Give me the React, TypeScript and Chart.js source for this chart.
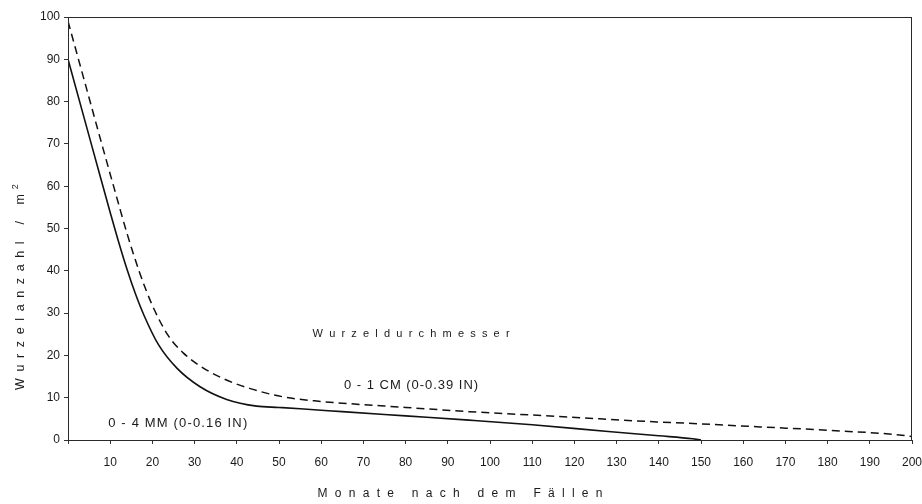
import React, { useEffect, useRef } from "react";
import { Chart, registerables } from "chart.js";

Chart.register(...registerables);

// 0 - 4 MM root diameter (solid line)
const fineMonths = [0, 4, 8, 10, 12, 14, 16, 18, 21.4, 25.8, 31.3, 37.6, 44.7, 50, 55, 60, 65, 80, 95, 110, 128, 140, 148, 150];
const fineCount = [90, 75.5, 61, 53.8, 46.8, 40.3, 34.5, 29.5, 22.6, 17, 12.6, 9.6, 8.0, 7.7, 7.4, 7.05, 6.7, 5.7, 4.7, 3.6, 2.0, 1.0, 0.3, 0];

// 0 - 1 CM root diameter (dashed line)
const coarseMonths = [0, 4, 8, 11, 14, 17, 20, 23.8, 27.3, 31.3, 36.8, 43, 51, 60, 65, 80, 95, 110, 126, 131, 150, 164, 180, 197, 200];
const coarseCount = [99, 84.5, 70, 59.3, 48.8, 39.5, 31.8, 24.6, 20.6, 17.5, 14.5, 12.2, 10.2, 9.1, 8.7, 7.7, 6.7, 5.9, 5.0, 4.7, 3.8, 3.1, 2.3, 1.2, 0.8];

const xTitle = "Monate nach dem Fällen";
const yTitle = "Wurzelanzahl / m";
const yTitleSup = "2";
const legendTitle = "Wurzeldurchmesser";
const coarseLabel = "0 - 1 CM (0-0.39 IN)";
const fineLabel = "0 - 4 MM (0-0.16 IN)";

const FONT = "'Liberation Sans', Arial, Helvetica, sans-serif";
const INK = "#1a1a1a";

function drawFit(ctx: CanvasRenderingContext2D, text: string, cx: number, cy: number, target: number) {
  const chars = Array.from(text);
  const widths = chars.map((c) => ctx.measureText(c).width);
  const natural = widths.reduce((a, b) => a + b, 0);
  const spacing = chars.length > 1 ? (target - natural) / (chars.length - 1) : 0;
  let x = cx - target / 2;
  ctx.textAlign = "left";
  ctx.textBaseline = "middle";
  chars.forEach((c, i) => {
    ctx.fillText(c, x, cy);
    x += widths[i] + spacing;
  });
  return x;
}

const textPlugin = {
  id: "texts",
  afterDraw(chart: any) {
    const { ctx, chartArea, scales } = chart;
    const xs = scales.x;
    const ys = scales.y;
    ctx.save();
    // frame
    ctx.strokeStyle = "#2a2a2a";
    ctx.lineWidth = 1;
    ctx.strokeRect(chartArea.left + 0.5, chartArea.top + 0.5, chartArea.right - chartArea.left - 1, chartArea.bottom - chartArea.top);
    ctx.fillStyle = INK;

    ctx.font = `11px ${FONT}`;
    drawFit(ctx, legendTitle, xs.getPixelForValue(81.3), ys.getPixelForValue(25), 197);

    ctx.font = `13px ${FONT}`;
    drawFit(ctx, coarseLabel, xs.getPixelForValue(81.3), ys.getPixelForValue(13), 134);
    drawFit(ctx, fineLabel, xs.getPixelForValue(26), ys.getPixelForValue(4), 139);

    ctx.font = `12px ${FONT}`;
    drawFit(ctx, xTitle, 460, 494, 285);

    // y title, rotated
    ctx.translate(21, 286);
    ctx.rotate(-Math.PI / 2);
    ctx.font = `12.5px ${FONT}`;
    const endX = drawFit(ctx, yTitle, -6, 0, 196);
    ctx.font = `9px ${FONT}`;
    ctx.textAlign = "left";
    ctx.textBaseline = "middle";
    ctx.fillText(yTitleSup, endX - 2, -5);
    ctx.restore();
  },
};

export default function App() {
  const ref = useRef<HTMLCanvasElement | null>(null);
  useEffect(() => {
    if (!ref.current) return;
    const chart = new Chart(ref.current, {
      type: "line",
      data: {
        datasets: [
          {
            label: fineLabel,
            data: fineMonths.map((m, i) => ({ x: m, y: fineCount[i] })),
            borderColor: "#111",
            borderWidth: 1.6,
            pointRadius: 0,
            fill: false,
            cubicInterpolationMode: "monotone",
          },
          {
            label: coarseLabel,
            data: coarseMonths.map((m, i) => ({ x: m, y: coarseCount[i] })),
            borderColor: "#111",
            borderWidth: 1.5,
            borderDash: [8, 5],
            pointRadius: 0,
            fill: false,
            cubicInterpolationMode: "monotone",
          },
        ],
      },
      options: {
        animation: false,
        responsive: false,
        layout: { padding: { left: 0, top: 17, right: 10, bottom: 0 } },
        plugins: { legend: { display: false }, tooltip: { enabled: false } },
        scales: {
          x: {
            type: "linear",
            min: 0,
            max: 200,
            afterFit: (s: any) => {
              s.height = 64;
              s.paddingLeft = 0;
              s.paddingRight = 0;
            },
            ticks: {
              stepSize: 10,
              autoSkip: false,
              maxRotation: 0,
              padding: 11,
              color: INK,
              font: { family: FONT, size: 12 },
              callback: (v: any) => (v === 0 ? "" : String(v)),
            },
            grid: { display: true, drawOnChartArea: false, drawTicks: true, tickLength: 4, color: "#333" },
            border: { display: true, color: "#2a2a2a", width: 1 },
          },
          y: {
            type: "linear",
            min: 0,
            max: 100,
            afterFit: (s: any) => {
              s.width = 68;
              s.paddingTop = 0;
              s.paddingBottom = 0;
            },
            ticks: {
              stepSize: 10,
              padding: 4,
              color: INK,
              font: { family: FONT, size: 12 },
            },
            grid: { display: true, drawOnChartArea: false, drawTicks: true, tickLength: 4, color: "#333" },
            border: { display: true, color: "#2a2a2a", width: 1 },
          },
        },
      },
      plugins: [textPlugin],
    });
    return () => chart.destroy();
  }, []);
  return (
    <div style={{ position: "absolute", left: 0, top: 0, width: 922, height: 504, background: "#fff" }}>
      <canvas ref={ref} width={922} height={504} style={{ display: "block", width: 922, height: 504 }} />
    </div>
  );
}
